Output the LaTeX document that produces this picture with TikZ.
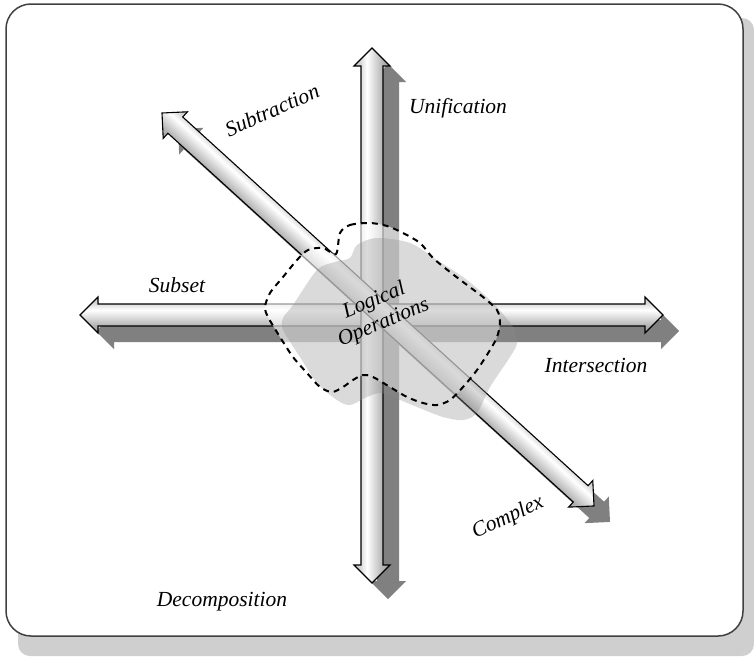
\documentclass[tikz,border=0pt]{standalone}
\usepackage{fontspec}
\setmainfont{Liberation Serif}
\definecolor{arwA}{gray}{0.62}
\definecolor{arwB}{gray}{0.70}
\definecolor{arwC}{gray}{0.84}
\definecolor{arwD}{gray}{0.80}
\definecolor{arwshadow}{gray}{0.50}
\definecolor{frameshadow}{gray}{0.81}
\definecolor{blobgray}{gray}{0.55}
\pgfdeclareverticalshading{axshade}{100bp}{color(0bp)=(arwA);color(25bp)=(arwA);color(35bp)=(arwB);color(57bp)=(white);color(67bp)=(arwC);color(75bp)=(arwD);color(100bp)=(arwD)}
\newcommand{\axpoly}[1]{(0,0) -- (18,18) -- (18,11) -- (#1-18,11) -- (#1-18,18) -- (#1,0) -- (#1-18,-18) -- (#1-18,-11) -- (18,-11) -- (18,-18) -- cycle}
\newcommand{\axshadow}[4]{%
  \begin{scope}[transform canvas={shift={(#1+16,#2+16)},rotate=#3}]
    \fill[arwshadow] \axpoly{#4};
  \end{scope}}
\newcommand{\axbody}[4]{%
  \begin{scope}[transform canvas={shift={(#1,#2)},rotate=#3}]
    \shadedraw[shading=axshade, draw=black, line width=1.1pt, line join=miter] \axpoly{#4};
  \end{scope}}
\tikzset{
  lbl/.style={font=\fontsize{21.5}{24}\selectfont\itshape, inner sep=0pt},
  dashblob/.style={draw=black, line width=2pt, dash pattern=on 6pt off 5pt},
}
\begin{document}
\begin{tikzpicture}[x=1pt, y=-1pt]
\useasboundingbox (0,0) rectangle (754,656);
% frame
\fill[frameshadow, rounded corners=12pt] (18,18) rectangle (754,656);
\draw[draw=black!75, line width=1.5pt, fill=white, rounded corners=25pt] (6,4) rectangle (743,636);
% arrow shadows
\axshadow{80}{315}{0}{583}
\axshadow{372}{583}{90}{535}
\axshadow{162}{113}{-42.29}{584}
% arrows
\axbody{80}{315}{0}{583}
\axbody{372}{583}{90}{535}
\axbody{162}{113}{-42.29}{584}
% blobs
\fill[white, fill opacity=0.6] plot[smooth cycle, tension=0.5] coordinates {(340,233) (350,225) (370,223) (387,226) (403,233) (420,243) (433,258) (450,272) (467,285) (483,297) (497,310) (500,323) (497,337) (490,350) (477,370) (463,387) (450,400) (437,405) (423,403) (407,397) (390,387) (373,377) (363,375) (353,380) (343,387) (332,392) (320,387) (307,373) (293,357) (280,337) (268,317) (265,307) (270,293) (283,277) (297,260) (308,250) (323,248) (336,254)};
\fill[blobgray, fill opacity=0.32] plot[smooth cycle, tension=0.5] coordinates {(357,245) (377,238) (410,243) (437,260) (467,280) (493,303) (513,327) (517,343) (510,357) (490,387) (477,413) (463,420) (443,417) (417,407) (393,397) (380,393) (367,397) (350,405) (337,400) (317,383) (300,357) (283,330) (283,318) (293,305) (317,270) (335,262) (350,258)};
\draw[dashblob] plot[smooth cycle, tension=0.5] coordinates {(340,233) (350,225) (370,223) (387,226) (403,233) (420,243) (433,258) (450,272) (467,285) (483,297) (497,310) (500,323) (497,337) (490,350) (477,370) (463,387) (450,400) (437,405) (423,403) (407,397) (390,387) (373,377) (363,375) (353,380) (343,387) (332,392) (320,387) (307,373) (293,357) (280,337) (268,317) (265,307) (270,293) (283,277) (297,260) (308,250) (323,248) (336,254)};
% labels
\node[lbl, rotate=23, align=center] (logic) at (379,312) {Logical\\Operations};
\node[lbl, rotate=24] (subtr) at (272,110) {Subtraction};
\node[lbl, anchor=base] (unif) at (458,113) {Unification};
\node[lbl, anchor=base] (subset) at (177,292) {Subset};
\node[lbl, anchor=base] (inter) at (596,372) {Intersection};
\node[lbl, rotate=25] (compl) at (508,518) {Complex};
\node[lbl, anchor=base] (decomp) at (222,606) {Decomposition};
\end{tikzpicture}
\end{document}
